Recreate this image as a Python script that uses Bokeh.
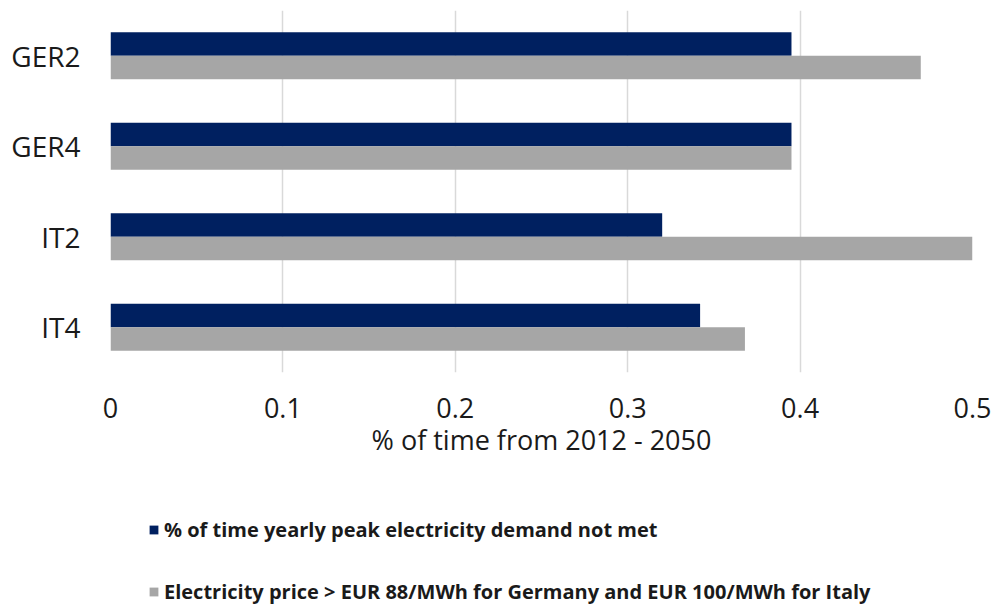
from bokeh.plotting import figure
from bokeh.layouts import column
from bokeh.models import ColumnDataSource, FactorRange, FixedTicker, Legend, LegendItem, Range1d
from bokeh.transform import dodge
from bokeh.embed import file_html
from bokeh.resources import INLINE

# data
scenarios = ["GER2", "GER4", "IT2", "IT4"]
demand_not_met = [0.395, 0.395, 0.320, 0.342]
price_above = [0.470, 0.395, 0.500, 0.368]
x_ticks = [0, 0.1, 0.2, 0.3, 0.4, 0.5]
x_tick_labels = ["0", "0.1", "0.2", "0.3", "0.4", "0.5"]
series_names = ["% of time yearly peak electricity demand not met",
                "Electricity price > EUR 88/MWh for Germany and EUR 100/MWh for Italy"]
x_title = "% of time from 2012 - 2050"

NAVY = "#002060"
GRAY = "#A6A6A6"
TEXT = "#1a1a1a"

src = ColumnDataSource(dict(cat=scenarios, a=demand_not_met, b=price_above))

p = figure(width=995, height=460, output_backend="svg", toolbar_location=None,
           y_range=FactorRange(factors=list(reversed(scenarios)), range_padding=0),
           x_range=Range1d(0, 0.5),
           min_border_left=110, min_border_right=23, min_border_top=10, min_border_bottom=88)

r1 = p.hbar(y=dodge("cat", 0.13, range=p.y_range), right="a", height=0.26, left=0,
            source=src, fill_color=NAVY, line_color=None)
r2 = p.hbar(y=dodge("cat", -0.13, range=p.y_range), right="b", height=0.26, left=0,
            source=src, fill_color=GRAY, line_color=None)

p.outline_line_color = None
p.background_fill_color = "white"
p.border_fill_color = "white"

p.ygrid.grid_line_color = None
p.xgrid.grid_line_color = "#D9D9D9"
p.xgrid.grid_line_width = 1.5

p.xaxis.ticker = FixedTicker(ticks=x_ticks)
p.xaxis.major_label_overrides = {t: l for t, l in zip(x_ticks, x_tick_labels)}
for ax in (p.xaxis[0], p.yaxis[0]):
    ax.axis_line_color = None
    ax.major_tick_line_color = None
    ax.minor_tick_line_color = None
    ax.major_label_text_font = "Open Sans"
    ax.major_label_text_font_size = "27px"
    ax.major_label_text_color = TEXT
p.yaxis.major_label_text_font_size = "28px"
p.xaxis.major_label_standoff = 19
p.yaxis.major_label_standoff = 24
p.xaxis.axis_label = x_title
p.xaxis.axis_label_text_font = "Open Sans"
p.xaxis.axis_label_text_font_size = "27px"
p.xaxis.axis_label_text_font_style = "normal"
p.xaxis.axis_label_text_color = TEXT
p.xaxis.axis_label_standoff = 0

# legend panel (its frame is aligned with the chart's frame by the column layout)
leg = figure(width=995, height=145, output_backend="svg", toolbar_location=None,
             x_axis_type=None, y_axis_type=None, min_border=0,
             x_range=Range1d(0, 0.5), y_range=FactorRange(factors=list(reversed(scenarios))))
leg.outline_line_color = None
leg.grid.grid_line_color = None
leg.background_fill_color = "white"
leg.border_fill_color = "white"
# legend proxies: same series with zero width, so only their legend swatches show
l1 = leg.hbar(y="cat", left="a", right="a", height=0.26, source=src,
              fill_color=NAVY, line_color=None)
l2 = leg.hbar(y="cat", left="b", right="b", height=0.26, source=src,
              fill_color=GRAY, line_color=None)

legend = Legend(items=[LegendItem(label=series_names[0], renderers=[l1]),
                       LegendItem(label=series_names[1], renderers=[l2])],
                location=(38, 0), orientation="vertical",
                label_text_font="Open Sans", label_text_font_style="bold",
                label_text_font_size="20px", label_text_color=TEXT,
                glyph_width=11, glyph_height=11, label_standoff=5,
                label_height=28, spacing=34, padding=0, margin=0,
                border_line_alpha=0, background_fill_alpha=0)
leg.add_layout(legend, "center")

layout = column(p, leg, spacing=0)
open("out.html", "w").write(file_html(layout, INLINE))
